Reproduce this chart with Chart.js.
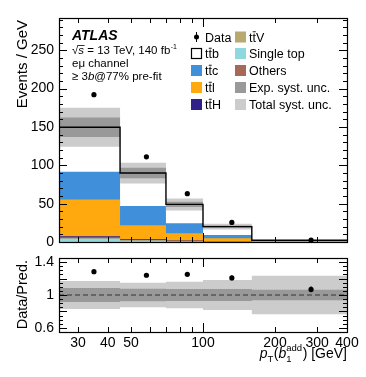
<!DOCTYPE html>
<html>
<head>
<meta charset="utf-8">
<script src="https://cdn.jsdelivr.net/npm/chart.js@4.4.0/dist/chart.umd.min.js"></script>
<style>
  html, body { margin: 0; padding: 0; background: #fff; }
  #wrap { position: relative; width: 366px; height: 377px; }
  canvas { position: absolute; left: 0; }
  #main { top: 0; }
  #ratio { top: 250px; }
</style>
</head>
<body>
<div id="wrap">
  <canvas id="main" width="366" height="250"></canvas>
  <canvas id="ratio" width="366" height="127"></canvas>
</div>
<script>
// pT(b1 add) spectrum, e-mu channel, >= 3b @ 77% pre-fit

const FONT = "'Liberation Sans', Arial, Helvetica, sans-serif";

// bin edges [GeV]
const binEdges = [25, 45, 70, 100, 160, 400];

// data (Events / GeV)
const dataX = [35, 58, 86, 132, 283];
const dataY = [192, 111, 63, 25.5, 2.4];
const dataErr = [2.0, 2.0, 1.6, 0.8, 0.15];

// predicted components (Events / GeV), bottom to top of the stack
const singleTop = [4.5, 2.0, 0.8, 0.4, 0.05];
const others = [0.5, 0.4, 0.2, 0.1, 0.02];
const ttV = [1.0, 0.6, 0.3, 0.2, 0.03];
const ttH = [1.5, 0.9, 0.5, 0.3, 0.05];
const ttl = [48, 18, 9.5, 4.0, 0.35];
const ttc = [36, 25, 13, 4.0, 0.5];
const ttb = [58, 43, 24.7, 11, 1.2];

// relative systematic uncertainties
const expUnc = [0.085, 0.075, 0.072, 0.074, 0.064];
const totUnc = [0.17, 0.15, 0.16, 0.182, 0.234];

// ratio panel
const ratioY = [1.284, 1.24, 1.252, 1.208, 1.068];
const ratioErr = [0.012, 0.018, 0.025, 0.03, 0.035];

// tick labels
const yTicksMain = [0, 50, 100, 150, 200, 250];
const yTicksRatio = [0.6, 0.8, 1, 1.2, 1.4];
const xTicksRatio = [30, 40, 50, 100, 200, 300, 400];
const xMinorTicks = [30, 40, 50, 60, 70, 80, 90, 200, 300];

const colors = {
  singleTop: '#8fd8dd',
  others: '#a86858',
  ttV: '#b8a970',
  ttH: '#30208a',
  ttl: '#ffa90f',
  ttc: '#3f8fdb',
  ttb: '#ffffff',
  exp: '#999999',
  tot: '#cccccc'
};

// helpers
const stepPts = vals => binEdges.map((x, i) => ({ x, y: vals[Math.min(i, vals.length - 1)] }));
const pts = (xs, ys) => xs.map((x, i) => ({ x, y: ys[i] }));
// keep the plot frame exactly where the padding says
const noPad = s => { s.paddingTop = 0; s.paddingBottom = 0; s.paddingLeft = 0; s.paddingRight = 0; };

// cumulative stack
const stackList = [singleTop, others, ttV, ttH, ttl, ttc, ttb];
const cum = [];
let run = [0, 0, 0, 0, 0];
stackList.forEach(arr => {
  run = run.map((v, i) => v + arr[i]);
  cum.push(run.slice());
});
const total = cum[cum.length - 1];

function fillSet(vals, color, order) {
  return {
    data: stepPts(vals), stepped: 'before', fill: 'origin',
    backgroundColor: color, borderWidth: 0, pointRadius: 0, order
  };
}
function bandSets(center, unc, color, order, scale) {
  const up = center.map((c, i) => scale ? c * (1 + unc[i]) : 1 + unc[i]);
  const lo = center.map((c, i) => scale ? c * (1 - unc[i]) : 1 - unc[i]);
  return [
    { data: stepPts(up), stepped: 'before', fill: '+1', backgroundColor: color, borderWidth: 0, pointRadius: 0, order },
    { data: stepPts(lo), stepped: 'before', fill: false, borderWidth: 0, pointRadius: 0, order }
  ];
}

// error bars on the data points
const errorBarPlugin = {
  id: 'errorBars',
  afterDatasetsDraw(chart) {
    const ctx = chart.ctx;
    const ys = chart.scales.y, xs = chart.scales.x;
    chart.data.datasets.forEach(ds => {
      if (!ds.errors) return;
      ctx.save();
      ctx.strokeStyle = '#000';
      ctx.lineWidth = 1.2;
      ds.data.forEach((p, i) => {
        const px = xs.getPixelForValue(p.x);
        ctx.beginPath();
        ctx.moveTo(px, ys.getPixelForValue(p.y - ds.errors[i]));
        ctx.lineTo(px, ys.getPixelForValue(p.y + ds.errors[i]));
        ctx.stroke();
      });
      ctx.restore();
    });
  }
};

// frame with inward ticks, ROOT style
function drawFrame(chart, yMajor, yMinor) {
  const ctx = chart.ctx, a = chart.chartArea;
  const xs = chart.scales.x, ys = chart.scales.y;
  ctx.save();
  ctx.strokeStyle = '#000';
  ctx.lineWidth = 1;
  ctx.beginPath();
  const tick = (x1, y1, x2, y2) => { ctx.moveTo(x1, y1); ctx.lineTo(x2, y2); };
  yMinor.forEach(v => {
    const p = Math.round(ys.getPixelForValue(v)) + 0.5;
    tick(a.left, p, a.left + 4, p);
    tick(a.right, p, a.right - 4, p);
  });
  yMajor.forEach(v => {
    const p = Math.round(ys.getPixelForValue(v)) + 0.5;
    tick(a.left, p, a.left + 8, p);
    tick(a.right, p, a.right - 8, p);
  });
  xMinorTicks.forEach(v => {
    const p = Math.round(xs.getPixelForValue(v)) + 0.5;
    tick(p, a.bottom, p, a.bottom - 5);
    tick(p, a.top, p, a.top + 5);
  });
  const p100 = Math.round(xs.getPixelForValue(100)) + 0.5;
  tick(p100, a.bottom, p100, a.bottom - 9);
  tick(p100, a.top, p100, a.top + 9);
  ctx.stroke();
  ctx.lineWidth = 1.2;
  ctx.strokeRect(Math.round(a.left) + 0.5, Math.round(a.top) + 0.5,
    Math.round(a.right - a.left), Math.round(a.bottom - a.top));
  ctx.restore();
}

function range(lo, hi, step) {
  const out = [];
  for (let v = lo; v <= hi + 1e-9; v += step) out.push(Math.round(v * 1000) / 1000);
  return out;
}

// t t-bar + suffix
function drawTT(ctx, x, y, suffix, size) {
  ctx.font = size + 'px ' + FONT;
  ctx.textAlign = 'left';
  ctx.fillText('t', x, y);
  const w = ctx.measureText('t').width;
  ctx.fillText('t', x + w, y);
  ctx.fillText(suffix, x + 2 * w, y);
  ctx.save();
  ctx.lineWidth = 0.9;
  ctx.strokeStyle = '#000';
  ctx.beginPath();
  ctx.moveTo(x + w + 0.3, y - size * 0.78);
  ctx.lineTo(x + 2 * w - 0.2, y - size * 0.78);
  ctx.stroke();
  ctx.restore();
}

const labelsPlugin = {
  id: 'labels',
  afterDraw(chart) {
    drawFrame(chart, yTicksMain, range(0, 290, 10));
    const ctx = chart.ctx;
    ctx.save();
    ctx.fillStyle = '#000';
    ctx.textBaseline = 'alphabetic';

    // y title
    ctx.save();
    ctx.translate(22, 0);
    ctx.rotate(-Math.PI / 2);
    ctx.font = '15px ' + FONT;
    ctx.textAlign = 'right';
    ctx.fillText('Events / GeV', -20, 5);
    ctx.restore();

    // ATLAS block
    ctx.font = 'italic bold 14px ' + FONT;
    ctx.textAlign = 'left';
    ctx.fillText('ATLAS', 72, 40);

    let x = 72, y = 54;
    ctx.font = '11.5px ' + FONT;
    ctx.fillText('\u221A', x, y);
    x += ctx.measureText('\u221A').width;
    ctx.font = 'italic 11.5px ' + FONT;
    ctx.fillText('s', x, y);
    const ws = ctx.measureText('s').width;
    ctx.fillRect(x - 0.5, y - 9, ws + 1, 0.8);
    x += ws;
    ctx.font = '11.5px ' + FONT;
    const s1 = ' = 13 TeV, 140 fb';
    ctx.fillText(s1, x, y);
    x += ctx.measureText(s1).width;
    ctx.font = '7px ' + FONT;
    ctx.fillText('-1', x + 0.5, y - 5);

    ctx.font = '11.5px ' + FONT;
    ctx.fillText('e\u03BC channel', 72, 67);

    x = 72; y = 80;
    ctx.fillText('\u2265 3', x, y);
    x += ctx.measureText('\u2265 3').width;
    ctx.font = 'italic 11.5px ' + FONT;
    ctx.fillText('b', x, y);
    x += ctx.measureText('b').width;
    ctx.font = '11.5px ' + FONT;
    ctx.fillText('@77% pre-fit', x, y);

    // legend
    const rows = [37, 53.5, 70.5, 87.5, 104.5];
    const c0 = 191, c1 = 235, box = 11;
    const sw = (cx, cy, col, stroke) => {
      ctx.fillStyle = col;
      ctx.fillRect(cx, cy - box / 2, box, box);
      if (stroke) {
        ctx.strokeStyle = '#000';
        ctx.lineWidth = 1.2;
        ctx.strokeRect(cx + 0.5, cy - box / 2 + 0.5, box - 1, box - 1);
      }
      ctx.fillStyle = '#000';
    };
    // Data marker
    ctx.beginPath();
    ctx.arc(c0 + 5.5, rows[0], 2.5, 0, Math.PI * 2);
    ctx.fill();
    ctx.fillRect(c0 + 5, rows[0] - 5, 1, 10);
    const tyOff = 4.5;
    ctx.font = '12.5px ' + FONT;
    ctx.fillText('Data', c0 + 14, rows[0] + tyOff);

    sw(c0, rows[1], colors.ttb, true);
    drawTT(ctx, c0 + 14, rows[1] + tyOff, 'b', 12.5);
    sw(c0, rows[2], colors.ttc);
    drawTT(ctx, c0 + 14, rows[2] + tyOff, 'c', 12.5);
    sw(c0, rows[3], colors.ttl);
    drawTT(ctx, c0 + 14, rows[3] + tyOff, 'l', 12.5);
    sw(c0, rows[4], colors.ttH);
    drawTT(ctx, c0 + 14, rows[4] + tyOff, 'H', 12.5);

    sw(c1, rows[0], colors.ttV);
    drawTT(ctx, c1 + 14, rows[0] + tyOff, 'V', 12.5);
    const right = [['Single top', colors.singleTop], ['Others', colors.others],
                   ['Exp. syst. unc.', colors.exp], ['Total syst. unc.', colors.tot]];
    right.forEach((r, i) => {
      sw(c1, rows[i + 1], r[1]);
      ctx.font = '12.5px ' + FONT;
      ctx.textAlign = 'left';
      ctx.fillText(r[0], c1 + 14, rows[i + 1] + tyOff);
    });
    ctx.restore();
  }
};

const ratioLabelsPlugin = {
  id: 'ratioLabels',
  afterDraw(chart) {
    drawFrame(chart, yTicksRatio, range(0.55, 1.45, 0.05));
    const ctx = chart.ctx;
    ctx.save();
    ctx.fillStyle = '#000';
    // y title
    ctx.save();
    ctx.translate(22, 0);
    ctx.rotate(-Math.PI / 2);
    ctx.font = '14.5px ' + FONT;
    ctx.textAlign = 'right';
    ctx.fillText('Data/Pred.', -10, 5);
    ctx.restore();

    // x title: pT(b1^add) [GeV], right aligned
    const base = 108;
    const f = '14px ' + FONT, fi = 'italic 14px ' + FONT, fs = '9.5px ' + FONT;
    const segs = [
      { t: 'p', f: fi, dy: 0 },
      { t: 'T', f: fs, dy: 4 },
      { t: '(', f: f, dy: 0 },
      { t: 'b', f: fi, dy: 0 },
      { t: '1', f: fs, dy: 4, stackWith: 'add' },
      { t: ') [GeV]', f: f, dy: 0 }
    ];
    let wsum = 0;
    segs.forEach(s => {
      ctx.font = s.f;
      s.w = ctx.measureText(s.t).width;
      if (s.stackWith) s.w = Math.max(s.w, ctx.measureText(s.stackWith).width);
      wsum += s.w + (s.f === fs ? 0.5 : 0);
    });
    let x = 347 - wsum;
    ctx.textAlign = 'left';
    segs.forEach(s => {
      ctx.font = s.f;
      ctx.fillText(s.t, x, base + s.dy);
      if (s.stackWith) ctx.fillText(s.stackWith, x, base - 7);
      x += s.w + (s.f === fs ? 0.5 : 0);
    });
    ctx.restore();
  }
};

// main panel
const mainSets = [];
const stackColors = [colors.singleTop, colors.others, colors.ttV, colors.ttH, colors.ttl, colors.ttc, colors.ttb];
cum.forEach((c, i) => mainSets.push(fillSet(c, stackColors[i], 20 + i)));
mainSets.push(...bandSets(total, totUnc, colors.tot, 12, true));
mainSets.push(...bandSets(total, expUnc, colors.exp, 11, true));
mainSets.push({
  data: stepPts(total), stepped: 'before', fill: false,
  borderColor: '#000', borderWidth: 1.4, pointRadius: 0, order: 5
});
mainSets.push({
  data: pts(dataX, dataY), showLine: false, pointRadius: 2.6,
  pointBackgroundColor: '#000', pointBorderWidth: 0, errors: dataErr, order: 1
});

new Chart(document.getElementById('main'), {
  type: 'line',
  data: { datasets: mainSets },
  options: {
    responsive: false, animation: false, devicePixelRatio: 1,
    layout: { autoPadding: false, padding: { left: 0, right: 19, top: 18, bottom: 8 } },
    plugins: { legend: { display: false }, tooltip: { enabled: false } },
    scales: {
      x: { type: 'logarithmic', min: 25, max: 400, display: false },
      y: {
        min: 0, max: 292,
        afterFit: s => { s.width = 59; noPad(s); },
        afterBuildTicks: s => { s.ticks = yTicksMain.map(v => ({ value: v })); },
        grid: { display: false, drawTicks: false },
        border: { display: false },
        ticks: { padding: 5, color: '#000', font: { family: FONT, size: 14 } }
      }
    }
  },
  plugins: [errorBarPlugin, labelsPlugin]
});

// ratio panel
const ones = [1, 1, 1, 1, 1];
const ratioSets = [];
ratioSets.push(...bandSets(ones, totUnc, colors.tot, 12, false));
ratioSets.push(...bandSets(ones, expUnc, colors.exp, 11, false));
ratioSets.push({
  data: [{ x: 25, y: 1 }, { x: 400, y: 1 }], fill: false,
  borderColor: '#333', borderWidth: 1, borderDash: [5, 3], pointRadius: 0, order: 5
});
ratioSets.push({
  data: pts(dataX, ratioY), showLine: false, pointRadius: 2.6,
  pointBackgroundColor: '#000', pointBorderWidth: 0, errors: ratioErr, order: 1
});

new Chart(document.getElementById('ratio'), {
  type: 'line',
  data: { datasets: ratioSets },
  options: {
    responsive: false, animation: false, devicePixelRatio: 1,
    layout: { autoPadding: false, padding: { left: 0, right: 19, top: 8, bottom: 0 } },
    plugins: { legend: { display: false }, tooltip: { enabled: false } },
    scales: {
      x: {
        type: 'logarithmic', min: 25, max: 400,
        afterFit: s => { s.height = 45; noPad(s); },
        afterBuildTicks: s => { s.ticks = xTicksRatio.map(v => ({ value: v })); },
        grid: { display: false, drawTicks: false },
        border: { display: false },
        ticks: {
          autoSkip: false, maxRotation: 0, padding: 3, color: '#000',
          font: { family: FONT, size: 14 },
          callback: v => String(v)
        }
      },
      y: {
        min: 0.55, max: 1.45,
        afterFit: s => { s.width = 59; noPad(s); },
        afterBuildTicks: s => { s.ticks = yTicksRatio.map(v => ({ value: v })); },
        grid: { display: false, drawTicks: false },
        border: { display: false },
        ticks: {
          padding: 5, color: '#000', font: { family: FONT, size: 14 },
          callback: v => (v === 1 ? '1' : v.toFixed(1))
        }
      }
    }
  },
  plugins: [errorBarPlugin, ratioLabelsPlugin]
});
</script>
</body>
</html>
